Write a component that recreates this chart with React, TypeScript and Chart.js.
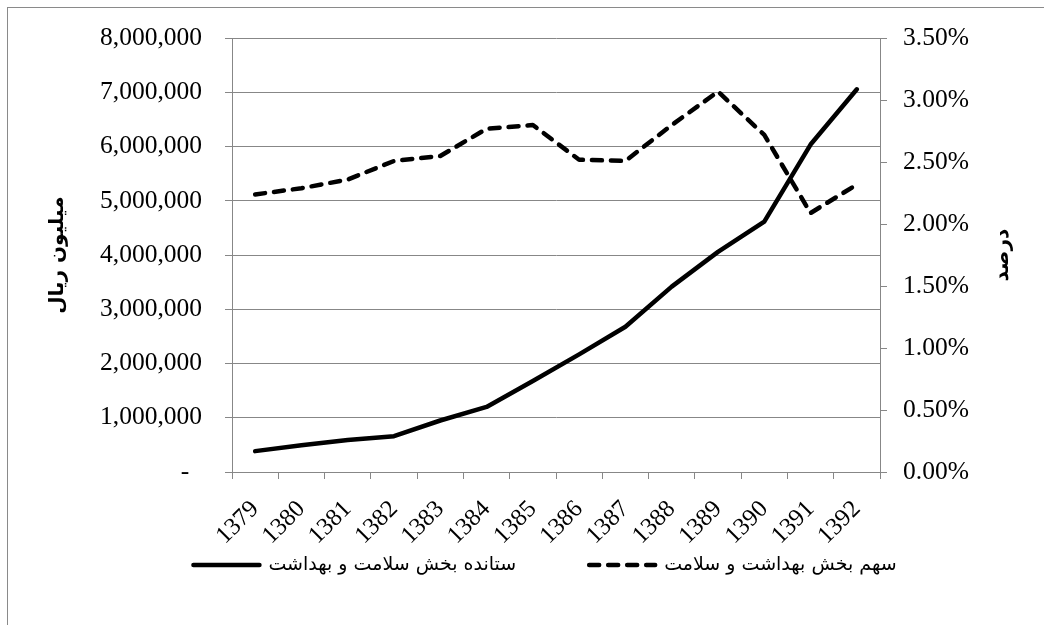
import React, { useEffect, useRef } from "react";
import { Chart, registerables } from "chart.js";

Chart.register(...registerables);

const years = ["1379", "1380", "1381", "1382", "1383", "1384", "1385", "1386", "1387", "1388", "1389", "1390", "1391", "1392"];
const outputValues = [385000, 495000, 590000, 660000, 950000, 1200000, 1680000, 2170000, 2680000, 3420000, 4060000, 4620000, 6040000, 7060000];
const shareValues = [2.24, 2.29, 2.36, 2.51, 2.55, 2.77, 2.80, 2.52, 2.51, 2.80, 3.07, 2.72, 2.09, 2.32];
const leftTicksMax = 8000000;
const leftStep = 1000000;
const rightTicksMax = 3.5;
const rightStep = 0.5;
const outputLabel = "ستانده بخش سلامت و بهداشت";
const shareLabel = "سهم بخش بهداشت و سلامت";
const leftTitle = "میلیون ریال";
const rightTitle = "درصد";

const GRID = "#878787";
const SERIF = "'Liberation Serif', 'Times New Roman', serif";
const ARABIC = "'DejaVu Sans', sans-serif";

const LEGEND_FONT = 19;
const LINE_LEN = 70;
const LINE_GAP = 7;
const ITEM_GAP = 71;

const bottomLegend = {
  id: "bottomLegend",
  afterDraw(chart: any) {
    const ctx = chart.ctx as CanvasRenderingContext2D;
    ctx.save();
    ctx.font = `${LEGEND_FONT}px ${ARABIC}`;
    const items = chart.data.datasets.map((ds: any) => ({ ds, w: ctx.measureText(ds.label).width }));
    const total = items.reduce((a: number, it: any) => a + LINE_LEN + LINE_GAP + it.w, 0) + ITEM_GAP * (items.length - 1);
    let x = chart.width / 2 + 22 - total / 2;
    const y = chart.chartArea.bottom + 93;
    items.forEach((it: any) => {
      const ds = it.ds;
      ctx.beginPath();
      ctx.strokeStyle = ds.borderColor;
      ctx.lineWidth = ds.borderWidth;
      ctx.lineCap = ds.borderCapStyle || "butt";
      ctx.setLineDash(ds.borderDash || []);
      ctx.moveTo(x + 2, y);
      ctx.lineTo(x + LINE_LEN - 2, y);
      ctx.stroke();
      ctx.setLineDash([]);
      ctx.fillStyle = "#000";
      ctx.textAlign = "left";
      ctx.textBaseline = "middle";
      ctx.fillText(ds.label, x + LINE_LEN + LINE_GAP, y);
      x += LINE_LEN + LINE_GAP + it.w + ITEM_GAP;
    });
    ctx.restore();
  },
};

// Right axis title, rotated counter-clockwise like the left one
const rightAxisTitle = {
  id: "rightAxisTitle",
  afterDraw(chart: any) {
    const ctx = chart.ctx as CanvasRenderingContext2D;
    const s = chart.scales.y1;
    const { top, bottom } = chart.chartArea;
    ctx.save();
    ctx.translate(s.right - 41, (top + bottom) / 2);
    ctx.rotate(-Math.PI / 2);
    ctx.font = `bold 20px ${ARABIC}`;
    ctx.fillStyle = "#000";
    ctx.textAlign = "center";
    ctx.textBaseline = "middle";
    ctx.fillText(rightTitle, 0, 0);
    ctx.restore();
  },
};

export default function App() {
  const ref = useRef<HTMLCanvasElement | null>(null);

  useEffect(() => {
    if (!ref.current) return;
    const chart = new Chart(ref.current, {
      type: "line",
      data: {
        labels: years,
        datasets: [
          {
            label: outputLabel,
            data: outputValues,
            yAxisID: "y",
            borderColor: "#000",
            backgroundColor: "#000",
            borderWidth: 4.5,
            borderCapStyle: "round",
            borderJoinStyle: "round",
            pointRadius: 0,
            tension: 0,
          },
          {
            label: shareLabel,
            data: shareValues,
            yAxisID: "y1",
            borderColor: "#000",
            backgroundColor: "#000",
            borderWidth: 4.5,
            borderDash: [10, 9],
            borderCapStyle: "round",
            borderJoinStyle: "round",
            pointRadius: 0,
            tension: 0,
          },
        ],
      },
      options: {
        animation: false,
        responsive: false,
        maintainAspectRatio: false,
        layout: { padding: { top: 36, left: 0, right: 0, bottom: 78 } },
        plugins: {
          legend: { display: false },
          tooltip: { enabled: false },
        },
        scales: {
          x: {
            type: "category",
            offset: true,
            grid: { offset: true, drawOnChartArea: false, drawTicks: true, tickLength: 7, color: GRID },
            border: { color: GRID, width: 1 },
            ticks: {
              maxRotation: 45,
              minRotation: 45,
              autoSkip: false,
              padding: 16,
              color: "#000",
              font: { family: SERIF, size: 24.5 },
            },
            afterFit: (s: any) => {
              s.height = 75;
            },
          },
          y: {
            position: "left",
            min: 0,
            max: leftTicksMax,
            grid: { color: GRID, tickLength: 7 },
            border: { color: GRID, width: 1 },
            ticks: {
              stepSize: leftStep,
              padding: 23,
              color: "#000",
              font: { family: SERIF, size: 25.5 },
              callback: (v: any) => (Number(v) === 0 ? "-  " : Number(v).toLocaleString("en-US")),
            },
            title: {
              display: true,
              text: leftTitle,
              color: "#000",
              font: { family: ARABIC, size: 20, weight: "bold" },
              padding: { top: 46, bottom: 0 },
            },
            afterFit: (s: any) => {
              s.width = 232;
            },
          },
          y1: {
            position: "right",
            min: 0,
            max: rightTicksMax,
            grid: { drawOnChartArea: false, color: GRID, tickLength: 7 },
            border: { color: GRID, width: 1 },
            ticks: {
              stepSize: rightStep,
              padding: 16,
              color: "#000",
              font: { family: SERIF, size: 25.5 },
              callback: (v: any) => Number(v).toFixed(2) + "%",
            },
            title: { display: false },
            afterFit: (s: any) => {
              s.width = 164;
            },
          },
        },
      } as any,
      plugins: [bottomLegend, rightAxisTitle],
    });
    return () => chart.destroy();
  }, []);

  return (
    <div style={{ position: "absolute", left: 0, top: 0, width: 1044, height: 625, overflow: "hidden", background: "#fff" }}>
      <div
        style={{
          position: "absolute",
          left: 7,
          top: 7,
          width: 1037,
          height: 618,
          borderLeft: "1px solid #8a8a8a",
          borderTop: "1px solid #8a8a8a",
          boxSizing: "border-box",
        }}
      />
      <canvas ref={ref} width={1044} height={625} style={{ position: "absolute", left: 0, top: 0 }} />
    </div>
  );
}
